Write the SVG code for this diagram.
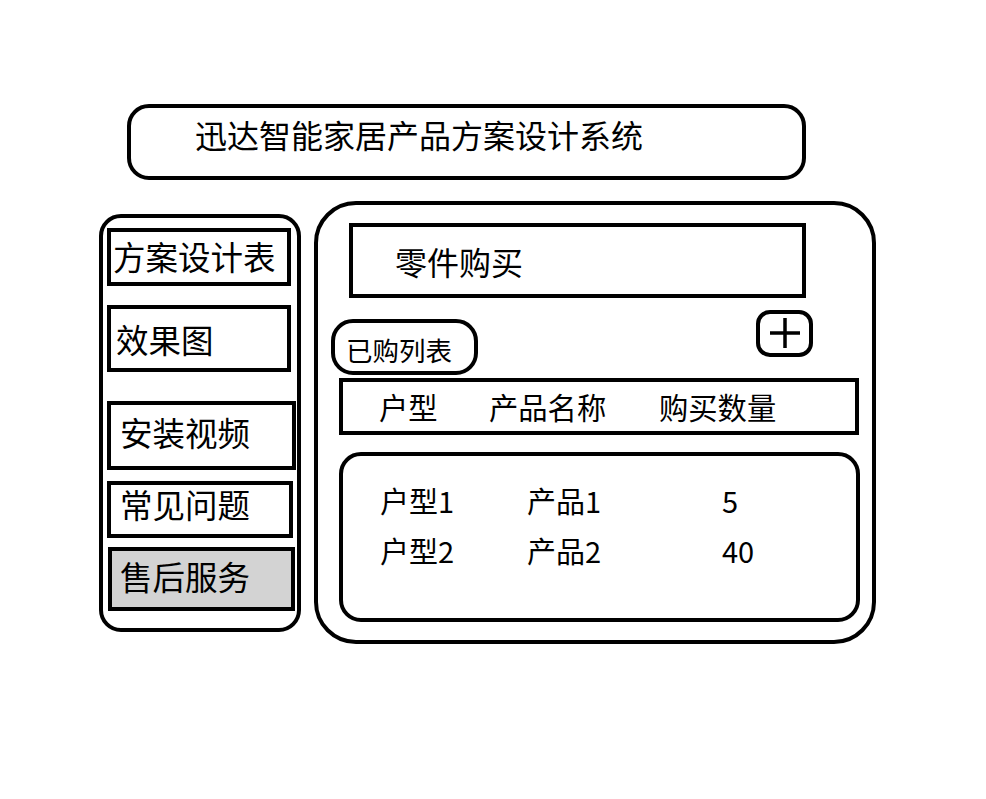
<svg xmlns="http://www.w3.org/2000/svg" width="986" height="799" viewBox="0 0 986 799">
<style>
.b{fill:#fff;stroke:#000;stroke-width:4}
.g{fill:#d3d3d3;stroke:#000;stroke-width:4}
text{font-family:"Noto Sans CJK SC","Noto Sans",sans-serif;fill:#000}
.t32{font-size:32.5px}
.t29{font-size:29.3px}
.t28{font-size:29px}
</style>
<rect width="986" height="799" fill="#fff"/>
<g id="title">
<rect class="b" x="129" y="106" width="675" height="72" rx="20"/>
<text x="195" y="148" style="font-size:32px">迅达智能家居产品方案设计系统</text>
</g>
<g id="left-panel">
<rect class="b" x="101" y="216" width="198" height="414" rx="20"/>
</g>
<g id="btn-plan">
<rect class="b" x="109" y="230" width="180" height="54"/>
<text class="t32" x="113" y="270">方案设计表</text>
</g>
<g id="btn-render">
<rect class="b" x="109" y="307" width="180" height="63"/>
<text class="t32" x="116" y="353">效果图</text>
</g>
<g id="btn-video">
<rect class="b" x="109" y="403" width="185" height="65"/>
<text class="t32" x="120" y="446">安装视频</text>
</g>
<g id="btn-faq">
<rect class="b" x="109" y="483" width="182" height="53"/>
<text class="t32" x="120" y="518">常见问题</text>
</g>
<g id="btn-service">
<rect class="g" x="110" y="549" width="183" height="60"/>
<text class="t32" x="120" y="590">售后服务</text>
</g>
<g id="right-panel">
<rect class="b" x="316" y="203" width="558" height="439" rx="40"/>
</g>
<g id="parts-title">
<rect class="b" x="351" y="225" width="453" height="71"/>
<text x="395" y="275" style="font-size:32px">零件购买</text>
</g>
<g id="purchased">
<rect class="b" x="333" y="321" width="143" height="52" rx="20"/>
<text x="346" y="361" style="font-size:26.5px">已购列表</text>
</g>
<g id="add-btn">
<rect class="b" x="758" y="312" width="53" height="43" rx="12"/>
<path d="M770 333H800M785 318V348" stroke="#000" stroke-width="3.5" fill="none"/>
</g>
<g id="table-header">
<rect class="b" x="341" y="380" width="516" height="53"/>
<text class="t29" x="379" y="419">户型</text>
<text class="t29" x="489" y="419">产品名称</text>
<text class="t29" x="659" y="419">购买数量</text>
</g>
<g id="table-body">
<rect class="b" x="341" y="454" width="517" height="166" rx="20"/>
<text class="t28" x="380" y="513">户型1</text>
<text class="t28" x="527" y="513">产品1</text>
<text class="t28" x="722" y="513">5</text>
<text class="t28" x="380" y="563">户型2</text>
<text class="t28" x="527" y="563">产品2</text>
<text class="t28" x="722" y="563">40</text>
</g>
<g id="connectors"></g>
</svg>
